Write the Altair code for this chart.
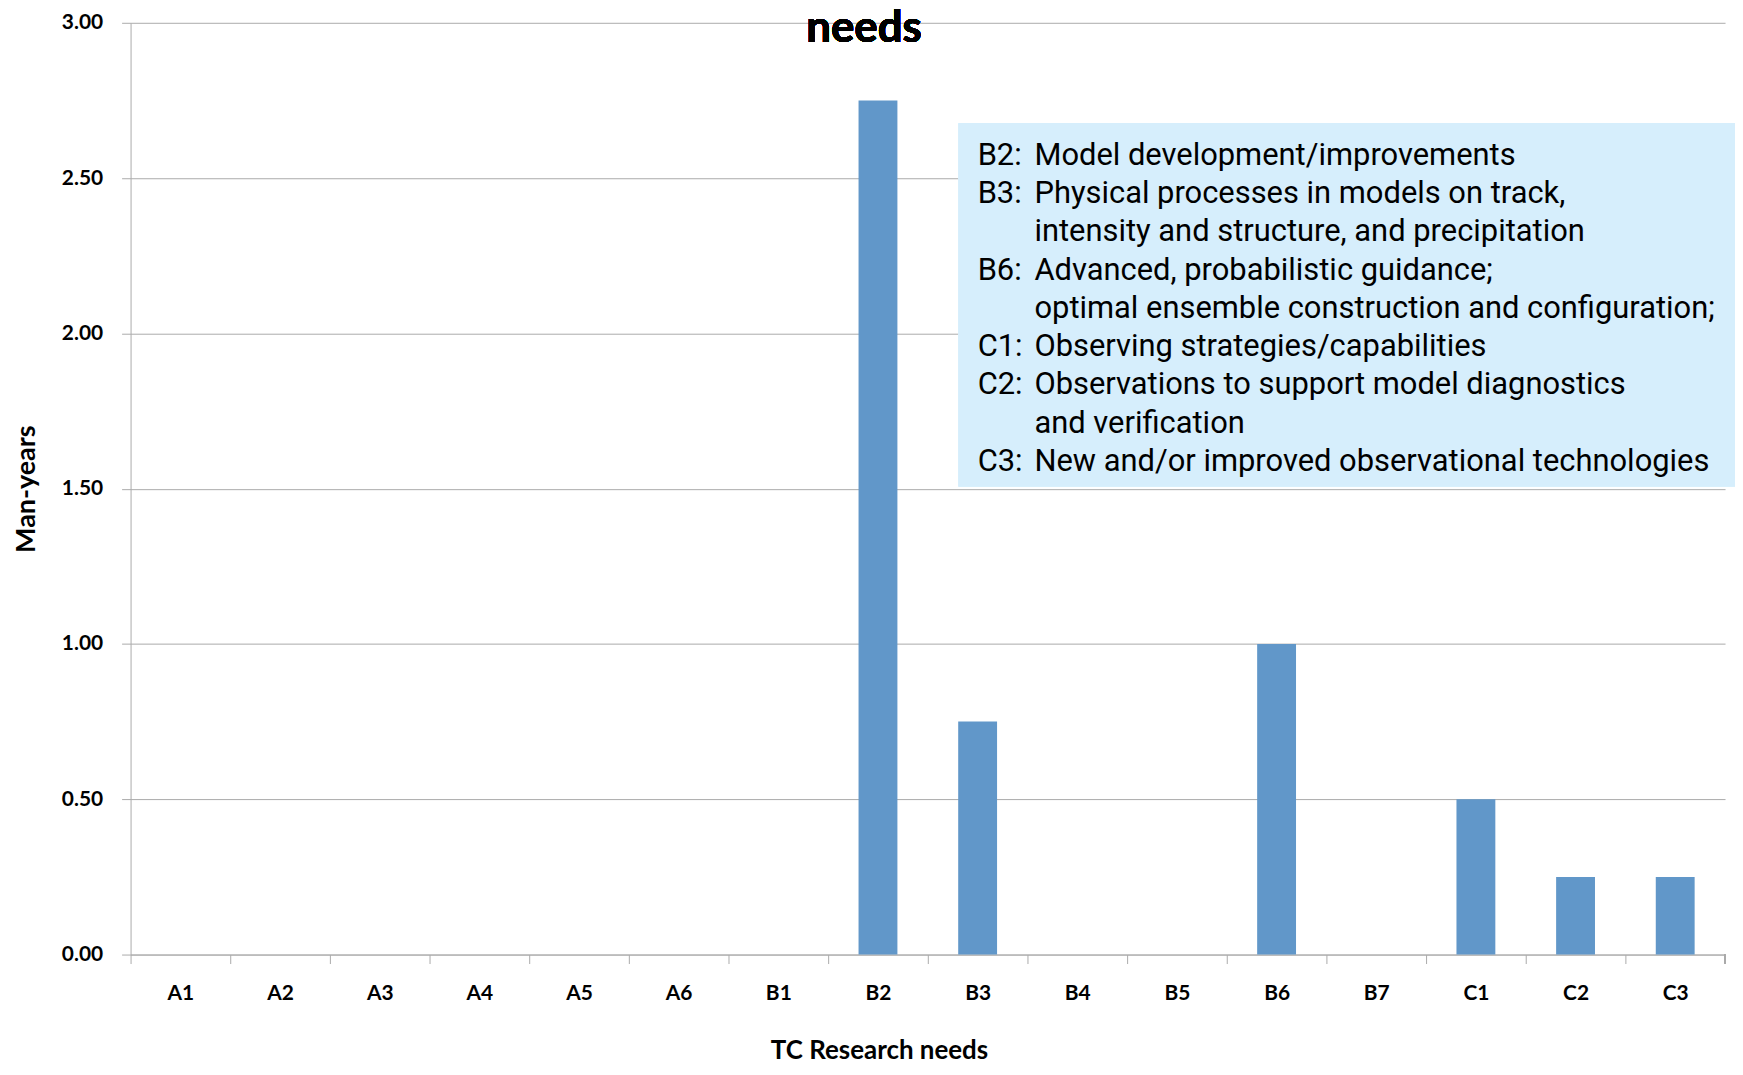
import altair as alt
import pandas as pd

categories = ["A1", "A2", "A3", "A4", "A5", "A6", "B1", "B2", "B3", "B4",
              "B5", "B6", "B7", "C1", "C2", "C3"]
values = [0, 0, 0, 0, 0, 0, 0, 2.75, 0.75, 0, 0, 1.00, 0, 0.50, 0.25, 0.25]
y_ticks = [0.0, 0.5, 1.0, 1.5, 2.0, 2.5, 3.0]

legend_codes = ["B2:", "B3:", "", "B6:", "", "C1:", "C2:", "", "C3:"]
legend_texts = [
    "Model development/improvements",
    "Physical processes in models on track,",
    "intensity and structure, and precipitation",
    "Advanced, probabilistic guidance;",
    "optimal ensemble construction and configuration;",
    "Observing strategies/capabilities",
    "Observations to support model diagnostics",
    "and verification",
    "New and/or improved observational technologies",
]

W, H = 1600, 935
FONT = "Lato"
BOXFONT = "Roboto"
BOXSIZE = 31
GRID = "#ABABAB"
FIRST_LINE = 142.5
LINE_H = 38.4

df = pd.DataFrame({"need": categories, "value": values})
ann = pd.DataFrame({
    "row": list(range(len(legend_texts))),
    "code": legend_codes,
    "text": legend_texts,
})

bars = alt.Chart(df).mark_bar(color="#6197C9").encode(
    x=alt.X(
        "need:N",
        sort=categories,
        scale=alt.Scale(paddingInner=0.61, paddingOuter=0.305),
        axis=alt.Axis(
            title="TC Research needs",
            titleFont=FONT, titleFontSize=26, titleFontWeight="bold",
            titleColor="#000000",
            titleX=751, titleY=104, titleBaseline="alphabetic", titleAlign="center",
            labelFont=FONT, labelFontSize=21, labelFontWeight="bold",
            labelColor="#000000", labelAngle=0,
            labelPadding=19, labelOffset=50,
            tickOffset=-50, tickSize=9, tickColor=GRID,
            domainColor=GRID, grid=False,
        ),
    ),
    y=alt.Y(
        "value:Q",
        scale=alt.Scale(domain=[0, 3], nice=False),
        axis=alt.Axis(
            title="Man-years",
            titleFont=FONT, titleFontSize=27, titleFontWeight="bold",
            titleColor="#000000",
            titleX=-104, titleY=H / 2, titleBaseline="middle", titleAlign="center",
            titleAngle=270,
            values=y_ticks, format=".2f",
            labelFont=FONT, labelFontSize=21, labelFontWeight="bold",
            labelColor="#000000", labelPadding=19,
            tickSize=9, tickColor=GRID, domainColor=GRID,
            grid=True, gridColor=GRID,
        ),
    ),
)

end_tick = alt.Chart(df).mark_rule(color=GRID).encode(
    x=alt.value(W), y=alt.value(H), y2=alt.value(H + 9)
)

title_text = alt.Chart(df).mark_text(
    text="needs", font=FONT, fontSize=44, fontWeight="bold",
    color="#000000", align="center", baseline="alphabetic",
).encode(x=alt.value(736), y=alt.value(19))

box = alt.Chart(df).mark_rect(color="#D6EEFC", clip=False).encode(
    x=alt.value(831), x2=alt.value(1620), y=alt.value(101), y2=alt.value(465)
)

line_scale = alt.Scale(domain=[0, len(legend_texts) - 1],
                       range=[FIRST_LINE, FIRST_LINE + LINE_H * (len(legend_texts) - 1)])

codes = alt.Chart(ann).transform_filter("datum.code != ''").mark_text(
    font=BOXFONT, fontSize=BOXSIZE, color="#000000",
    align="left", baseline="alphabetic",
).encode(
    x=alt.value(850),
    y=alt.Y("row:Q", scale=line_scale, axis=None),
    text="code:N",
)

texts = alt.Chart(ann).mark_text(
    font=BOXFONT, fontSize=BOXSIZE, color="#000000",
    align="left", baseline="alphabetic",
).encode(
    x=alt.value(907),
    y=alt.Y("row:Q", scale=line_scale, axis=None),
    text="text:N",
)

chart = alt.layer(bars, end_tick, title_text, box, codes, texts).resolve_scale(
    y="independent"
).properties(
    width=W, height=H,
    autosize=alt.AutoSizeParams(type="none"),
    padding={"left": 123, "top": 13, "right": 10, "bottom": 111},
    background="#FFFFFF",
).configure_view(stroke=None)

chart.save("out.html", embed_options={"renderer": "svg", "actions": False})
